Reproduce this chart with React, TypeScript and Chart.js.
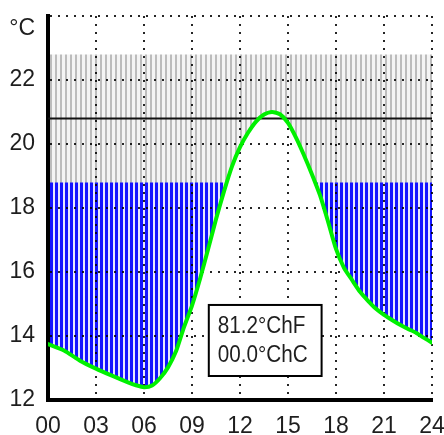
import React, { useEffect, useRef } from 'react';
import { Chart, registerables } from 'chart.js';

Chart.register(...registerables);

// ---- data ----
const hours = [0, 1, 2, 3, 4, 5, 5.5, 6, 6.5, 7, 7.5, 8, 8.5, 9, 9.5, 10, 10.5, 11, 11.5, 12, 12.5, 13, 13.5, 14, 14.5, 15, 15.5, 16, 16.5, 17, 17.5, 18, 18.5, 19, 19.5, 20, 20.5, 21, 21.5, 22, 22.5, 23, 23.5, 24];
const temps = [13.75, 13.55, 13.23, 12.98, 12.76, 12.55, 12.46, 12.4, 12.45, 12.68, 13.02, 13.52, 14.28, 14.95, 15.78, 16.7, 17.65, 18.52, 19.3, 19.9, 20.35, 20.7, 20.92, 21.0, 20.93, 20.66, 20.2, 19.65, 19.05, 18.4, 17.58, 16.72, 16.13, 15.75, 15.38, 15.1, 14.85, 14.66, 14.5, 14.35, 14.22, 14.1, 13.94, 13.79];
const bandTop = 22.8;
const bandBottom = 18.8;
const setpoint = 20.8;
const xTicks = ['00', '03', '06', '09', '12', '15', '18', '21', '24'];
const yTicks = ['12', '14', '16', '18', '20', '22'];
const unitLabel = '°C';
const boxLines = ['81.2°ChF', '00.0°ChC'];

const FONT_FAMILY = "'Liberation Sans', Arial, sans-serif";
const FONT_SIZE = 23;
const TEXT_COLOR = '#1e1e1e';

function stripes(period: number, fg: string, fgW: number, bg: string): CanvasPattern | string {
  const c = document.createElement('canvas');
  c.width = period;
  c.height = 4;
  const g = c.getContext('2d');
  if (!g) return fg;
  g.fillStyle = bg;
  g.fillRect(0, 0, period, 4);
  g.fillStyle = fg;
  g.fillRect(0, 0, fgW, 4);
  return g.createPattern(c, 'repeat') || fg;
}

const overlayPlugin = {
  id: 'overlay',
  afterDraw(chart: any) {
    const { ctx } = chart;
    const x = chart.scales.x;
    const y = chart.scales.y;
    ctx.save();
    ctx.font = `${FONT_SIZE}px ${FONT_FAMILY}`;
    ctx.fillStyle = TEXT_COLOR;
    ctx.textAlign = 'right';
    ctx.textBaseline = 'middle';
    ctx.fillText(unitLabel, 35, y.getPixelForValue(23.6));

    // info box
    const l = x.getPixelForValue(10.05);
    const r = x.getPixelForValue(17.1);
    const t = y.getPixelForValue(14.97);
    const b = y.getPixelForValue(12.75);
    ctx.fillStyle = '#ffffff';
    ctx.fillRect(l, t, r - l, b - t);
    ctx.strokeStyle = '#000';
    ctx.lineWidth = 2;
    ctx.strokeRect(l, t, r - l, b - t);
    ctx.fillStyle = TEXT_COLOR;
    ctx.textAlign = 'left';
    const lh = (b - t) / 2;
    const sx = 0.9;
    ctx.save();
    ctx.translate(l + 9, t);
    ctx.scale(sx, 1);
    ctx.fillText(boxLines[0], 0, lh * 0.62);
    ctx.fillText(boxLines[1], 0, lh * 1.42);
    ctx.restore();
    ctx.restore();
  },
};

export default function App() {
  const ref = useRef<HTMLCanvasElement | null>(null);

  useEffect(() => {
    if (!ref.current) return;
    const blue = stripes(5, '#1414ff', 3, '#e6e6ff');
    const grey = stripes(5, '#bcbcbc', 2, '#f4f4f4');
    const pts = (f: (h: number, i: number) => number) => hours.map((h, i) => ({ x: h, y: f(h, i) }));
    const font = { family: FONT_FAMILY, size: FONT_SIZE };

    const chart = new Chart(ref.current, {
      type: 'line',
      data: {
        datasets: [
          {
            // blue: between the curve and the band's lower edge
            data: pts(() => bandBottom),
            borderColor: 'rgba(0,0,0,0)',
            borderWidth: 0,
            pointRadius: 0,
            fill: { target: 2, above: blue, below: 'rgba(0,0,0,0)' },
          },
          {
            // grey comfort band
            data: pts(() => bandTop),
            borderColor: 'rgba(0,0,0,0)',
            borderWidth: 0,
            pointRadius: 0,
            fill: { target: 2, above: grey, below: 'rgba(0,0,0,0)' },
          },
          {
            data: pts((_, i) => temps[i]),
            borderColor: '#00f000',
            borderWidth: 4,
            tension: 0.2,
            pointRadius: 0,
            fill: false,
            borderCapStyle: 'round',
            borderJoinStyle: 'round',
          },
          {
            data: pts(() => setpoint),
            borderColor: '#111',
            borderWidth: 2,
            pointRadius: 0,
            fill: false,
          },
        ],
      } as any,
      options: {
        responsive: false,
        animation: false,
        devicePixelRatio: 1,
        layout: { padding: { top: 16, right: 12, left: 0, bottom: 0 } },
        plugins: {
          legend: { display: false },
          tooltip: { enabled: false },
          filler: { drawTime: 'beforeDraw', propagate: false },
        } as any,
        scales: {
          x: {
            type: 'linear',
            min: 0,
            max: 24,
            afterFit: (s: any) => { s.height = 35; s.paddingLeft = 0; s.paddingRight = 0; },
            ticks: {
              stepSize: 3,
              autoSkip: false,
              maxRotation: 0,
              padding: 13,
              color: TEXT_COLOR,
              font,
              callback: (v: any) => xTicks[Math.round(Number(v) / 3)] ?? '',
            },
            grid: { drawTicks: false, color: 'rgba(0,0,0,0.85)', lineWidth: 2 },
            border: { color: '#000', width: 4, dash: [2, 6] },
          },
          y: {
            min: 12,
            max: 24,
            afterFit: (s: any) => { s.width = 48; s.paddingTop = 0; s.paddingBottom = 0; },
            ticks: {
              stepSize: 2,
              padding: 13,
              color: TEXT_COLOR,
              font,
              callback: (v: any) => yTicks[Math.round((Number(v) - 12) / 2)] ?? '',
            },
            grid: { drawTicks: false, color: 'rgba(0,0,0,0.85)', lineWidth: 2 },
            border: { color: '#000', width: 4, dash: [2, 6] },
          },
        },
      } as any,
      plugins: [overlayPlugin],
    });
    return () => chart.destroy();
  }, []);

  return (
    <div style={{ position: 'absolute', left: 0, top: 0, width: 444, height: 435, background: '#fff' }}>
      <canvas ref={ref} width={444} height={435} style={{ display: 'block' }} />
    </div>
  );
}
